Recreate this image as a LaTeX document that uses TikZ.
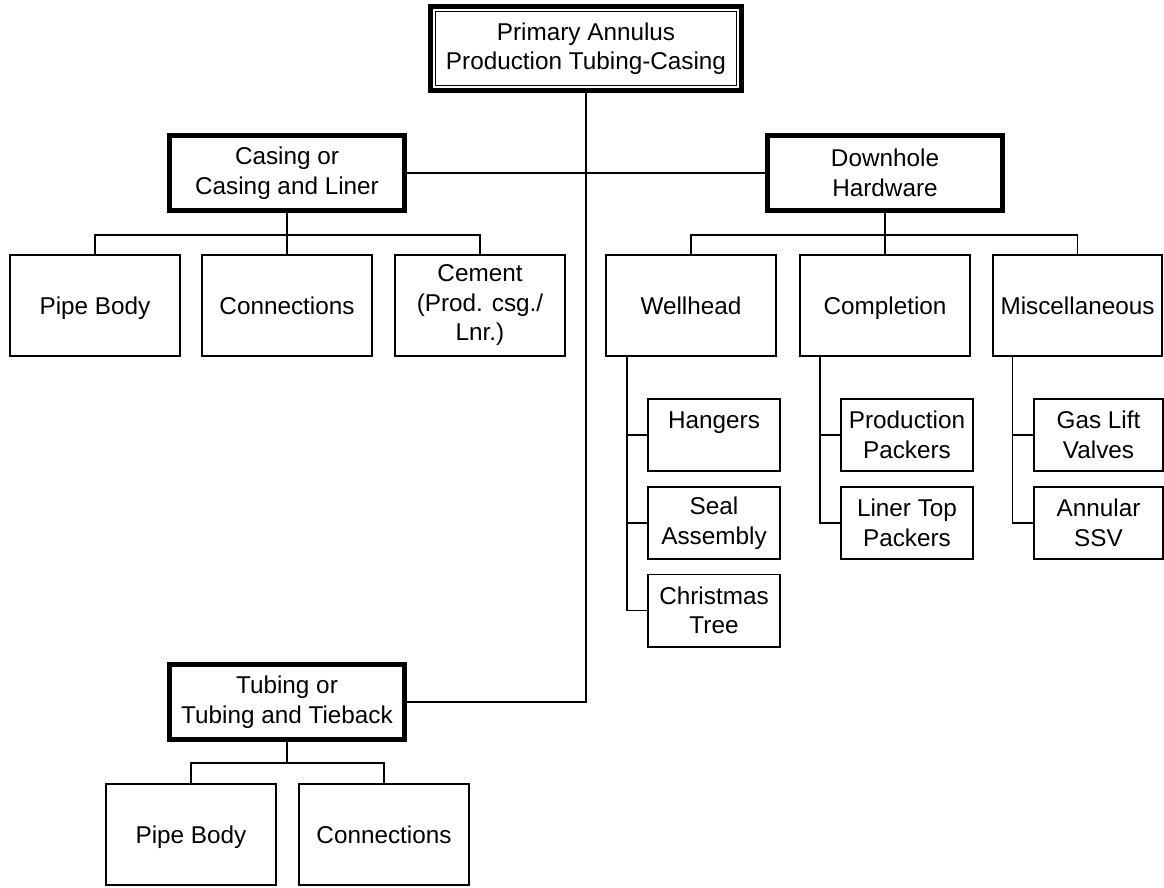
\documentclass[tikz,border=0pt]{standalone}
\usepackage{fontspec}
\setmainfont{Liberation Sans}
\begin{document}
\begin{tikzpicture}[x=1pt,y=-1pt,
  box/.style={draw, inner sep=0pt, outer sep=0pt, align=center,
    font=\fontsize{24.3}{29.5}\selectfont},
  oneline/.style={text height=17.4pt, text depth=0pt},
  leaf/.style={box, line width=1.6pt, minimum width=170.4pt, minimum height=101.4pt},
  subleaf/.style={box, line width=1.6pt, minimum width=132.4pt, minimum height=72.4pt},
  group/.style={box, line width=5pt, minimum width=235pt, minimum height=75pt},
  link/.style={line width=1.6pt}]
\useasboundingbox (0,0) rectangle (1164,888);

% root box with a thin inner frame
\node[box, line width=5pt, minimum width=311pt, minimum height=84pt] (root) at (586,48.5)
  {Primary Annulus\\Production Tubing-Casing};
\draw[line width=1.4pt] ([shift={(5.2pt,-5.2pt)}]root.north west)
  rectangle ([shift={(-5.2pt,5.2pt)}]root.south east);

% main groups
\node[group] (casing) at (287,173) {Casing or\\Casing and Liner};
\node[group] (hardware) at (885,173) {Downhole\\Hardware};
\node[group] (tubing) at (287,702) {Tubing or\\Tubing and Tieback};

% casing items
\node[leaf, oneline] (cpipe) at (95,305.5) {Pipe Body};
\node[leaf, oneline] (cconn) at (287,305.5) {Connections};
\node[leaf] (cement) at (480,305.5) {Cement\\(Prod. csg./\\Lnr.)};

% hardware items
\node[leaf, oneline] (wellhead) at (691,305.5) {Wellhead};
\node[leaf, oneline] (completion) at (885,305.5) {Completion};
\node[leaf, oneline, minimum width=169.4pt] (misc) at (1077.5,305.5) {Miscellaneous};

% hardware sub-items
\node[subleaf] (hangers) at (714,435) {Hangers\\\mbox{}};
\node[subleaf] (seal) at (714,523) {Seal\\Assembly};
\node[subleaf] (tree) at (714,610.5) {Christmas\\Tree};
\node[subleaf] (prodpk) at (907,435) {Production\\Packers};
\node[subleaf] (linerpk) at (907,523) {Liner Top\\Packers};
\node[subleaf, minimum width=129.4pt] (gaslift) at (1098.5,435) {Gas Lift\\Valves};
\node[subleaf, minimum width=129.4pt] (ssv) at (1098.5,523) {Annular\\SSV};

% tubing items
\node[leaf, oneline] (tpipe) at (191,834.5) {Pipe Body};
\node[leaf, oneline] (tconn) at (384,834.5) {Connections};

% trunk from the root
\draw[link] (root.south) |- (tubing.east);
\draw[link] (casing.east) -- (hardware.west);

% casing branch
\coordinate (cbar) at (287,235);
\draw[link] (casing.south) -- (cconn.north);
\draw[link] (cpipe.north) |- (cbar) -| (cement.north);

% hardware branch
\coordinate (hbar) at (885,235);
\draw[link] (hardware.south) -- (completion.north);
\draw[link] (wellhead.north) |- (hbar) -| (misc.north);

% sub-item trunks
\coordinate (wtrunk) at ([xshift=21pt]wellhead.south west);
\draw[link] (wtrunk) |- (tree.west);
\draw[link] (wtrunk |- hangers.west) -- (hangers.west);
\draw[link] (wtrunk |- seal.west) -- (seal.west);

\coordinate (ctrunk) at ([xshift=20pt]completion.south west);
\draw[link] (ctrunk) |- (linerpk.west);
\draw[link] (ctrunk |- prodpk.west) -- (prodpk.west);

\coordinate (mtrunk) at ([xshift=19.5pt]misc.south west);
\draw[link] (mtrunk) |- (ssv.west);
\draw[link] (mtrunk |- gaslift.west) -- (gaslift.west);

% tubing branch
\coordinate (tbar) at (287,763);
\draw[link] (tubing.south) -- (tbar);
\draw[link] (tpipe.north) |- (tbar) -| (tconn.north);
\end{tikzpicture}
\end{document}
